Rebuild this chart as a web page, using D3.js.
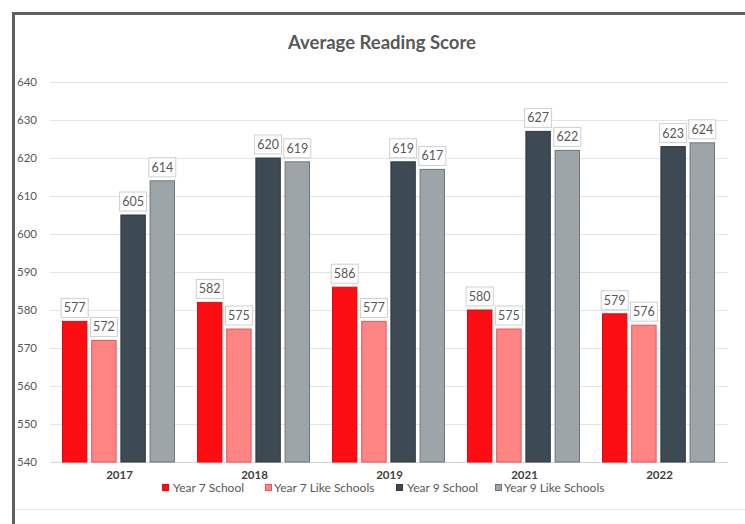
<!DOCTYPE html>
<html><head><meta charset="utf-8">
<script src="https://cdn.jsdelivr.net/npm/d3@7"></script>
<style>html,body{margin:0;padding:0;background:#fff;}svg{display:block;font-family:Lato,"Open Sans",sans-serif;}</style>
</head><body>
<svg id="c" width="745" height="524"></svg>
<script>
const years = ["2017","2018","2019","2021","2022"];
const seriesNames = ["Year 7 School","Year 7 Like Schools","Year 9 School","Year 9 Like Schools"];
const year7School = [577,582,586,580,579];
const year7Like = [572,575,577,575,576];
const year9School = [605,620,619,627,623];
const year9Like = [614,619,617,622,624];
const yTicks = [540,550,560,570,580,590,600,610,620,630,640];
const fills = ["#fb0d12","#ff8585","#3d4a53","#9ea5a9"];
const strokes = ["#e00a0f","#e8555a","#2e3940","#6d767b"];

const seriesValues = [year7School, year7Like, year9School, year9Like];
const svg = d3.select("#c");

// frame
svg.append("line").attr("x1",13.5).attr("x2",13.5).attr("y1",12).attr("y2",524).attr("stroke","#5f5f62").attr("stroke-width",3);
svg.append("line").attr("x1",12).attr("x2",745).attr("y1",13.5).attr("y2",13.5).attr("stroke","#5f5f62").attr("stroke-width",3);
svg.append("line").attr("x1",15).attr("x2",745).attr("y1",509.5).attr("y2",509.5).attr("stroke","#e6e6e6").attr("stroke-width",1);

const y = d3.scaleLinear().domain([540,640]).range([462,82]);
const x = d3.scaleBand().domain(years).range([52,727]).padding(0);
const xs = d3.scaleBand().domain(seriesNames).range([10,123]).paddingInner(0.13);

// grid
svg.append("g").selectAll("line").data(yTicks).join("line")
  .attr("x1",50).attr("x2",728)
  .attr("y1",d=>Math.round(y(d))+0.5).attr("y2",d=>Math.round(y(d))+0.5)
  .attr("stroke",d=>d===540?"#d4d4d4":"#e4e4e4").attr("stroke-width",1);

// y axis labels
const yAxis = d3.axisLeft(y).tickValues(yTicks).tickSize(0).tickPadding(0);
const ga = svg.append("g").attr("transform","translate(37,0)").call(yAxis);
ga.select(".domain").remove();
ga.selectAll("text").attr("fill","#595959").style("font-size","11.5px").style("font-family","Lato,sans-serif");

// bars
const groups = svg.append("g").selectAll("g").data(years).join("g")
  .attr("transform",d=>`translate(${x(d)},0)`);

seriesNames.forEach((s,si)=>{
  groups.append("rect")
    .attr("x",xs(s)+0.5).attr("width",xs.bandwidth()-1)
    .attr("y",(d,i)=>y(seriesValues[si][i]))
    .attr("height",(d,i)=>y(540)-y(seriesValues[si][i]))
    .attr("fill",fills[si]).attr("stroke",strokes[si]).attr("stroke-width",1);
});

// data labels
seriesNames.forEach((s,si)=>{
  const lg = groups.append("g").attr("transform",(d,i)=>`translate(${xs(s)+xs.bandwidth()/2},${y(seriesValues[si][i])-4})`);
  lg.append("rect").attr("x",-13.5).attr("y",-19).attr("width",27).attr("height",19)
    .attr("fill","#fff").attr("stroke","#cfcfcf").attr("stroke-width",1);
  lg.append("text").attr("x",0).attr("y",-5).attr("text-anchor","middle")
    .attr("fill","#595959").style("font-size","12.5px")
    .text((d,i)=>seriesValues[si][i]);
});

// x labels
const xAxis = d3.axisBottom(x).tickSize(0).tickPadding(0);
const gx = svg.append("g").attr("transform","translate(0,471)").call(xAxis);
gx.select(".domain").remove();
gx.selectAll("text").attr("fill","#404040").style("font-size","11.5px").style("font-weight","bold").style("font-family","Lato,sans-serif");

// title
svg.append("text").attr("x",382).attr("y",49).attr("text-anchor","middle")
  .attr("fill","#595959").style("font-size","18.5px").style("font-weight","bold")
  .text("Average Reading Score");

// legend
const legX = [162,265,396,495];
const lg = svg.append("g").selectAll("g").data(seriesNames).join("g")
  .attr("transform",(d,i)=>`translate(${legX[i]},0)`);
lg.append("rect").attr("x",0.5).attr("y",484.5).attr("width",6).attr("height",6)
  .attr("fill",(d,i)=>fills[i]).attr("stroke",(d,i)=>strokes[i]).attr("stroke-width",1);
lg.append("text").attr("x",(d,i)=>i===0||i===2?11:9).attr("y",492)
  .attr("fill","#595959").style("font-size","12px").text(d=>d);
</script>
</body></html>
